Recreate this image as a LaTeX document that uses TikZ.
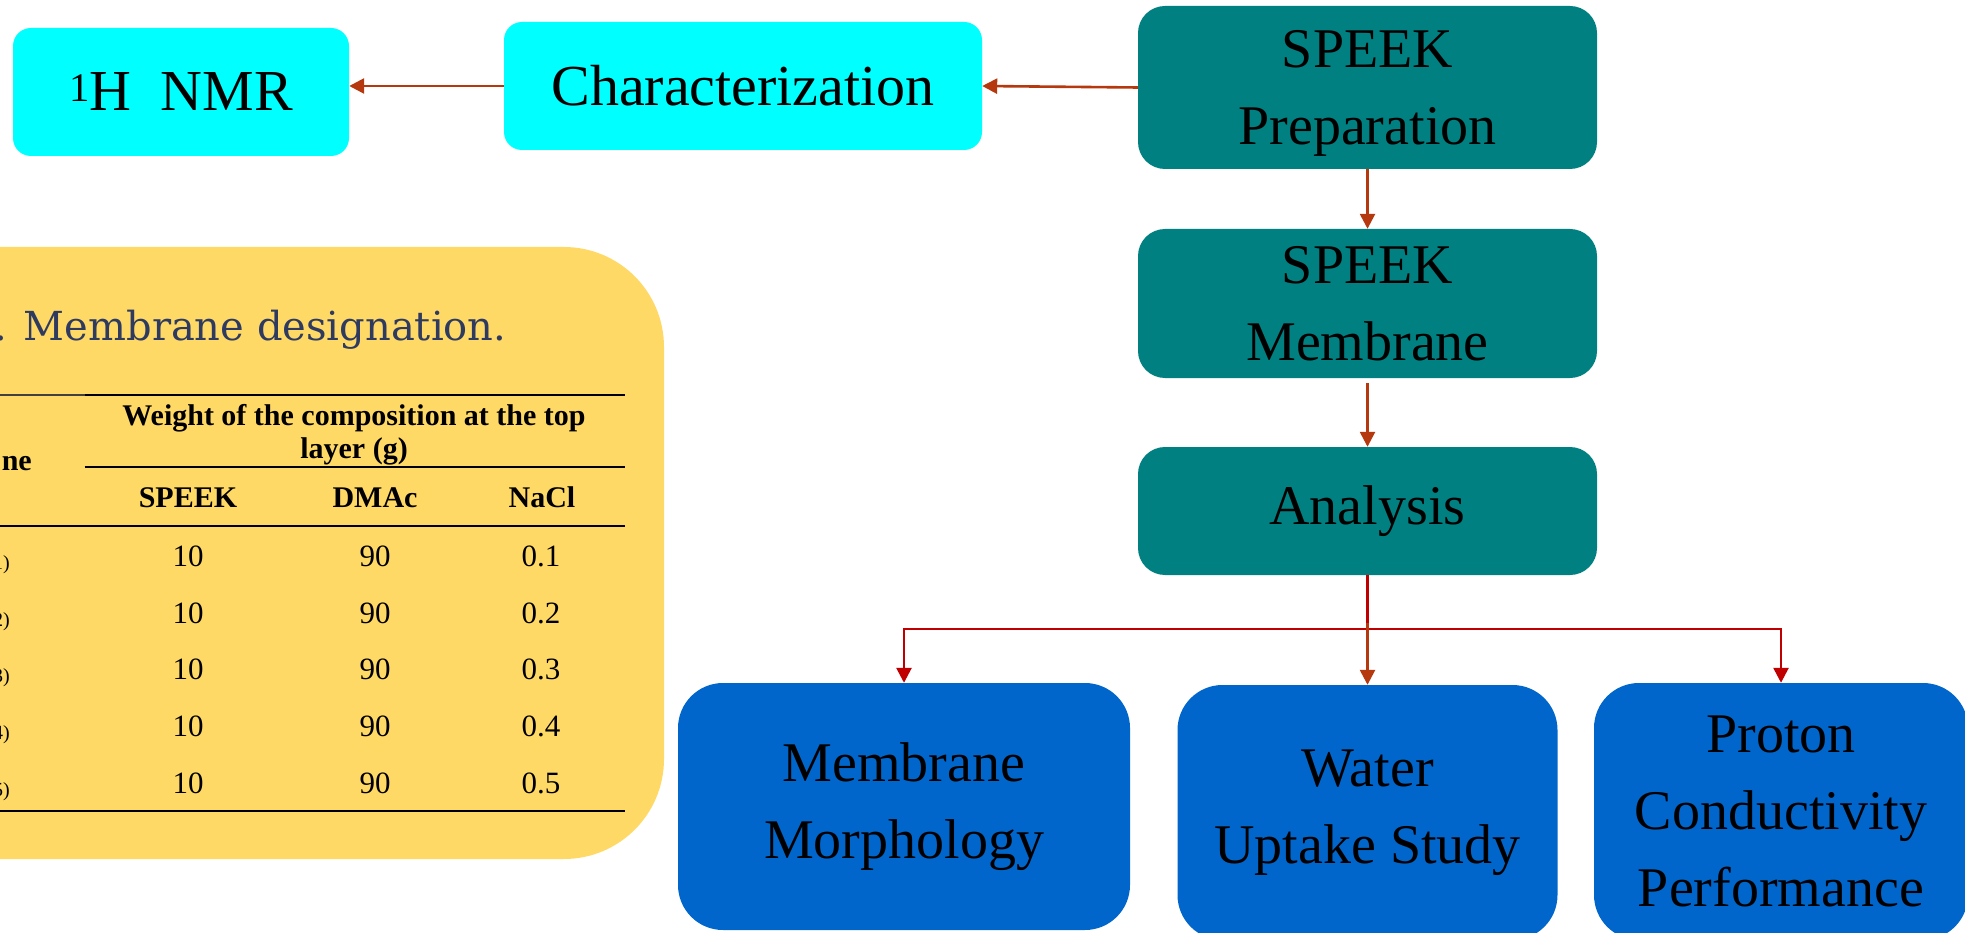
\documentclass[tikz,border=0pt]{standalone}
\usepackage{fontspec}
\setmainfont{Liberation Serif}
\newfontfamily\titlefont{DejaVu Serif}
\usetikzlibrary{arrows.meta}
\definecolor{boxcyan}{RGB}{0,255,255}
\definecolor{boxteal}{RGB}{0,128,128}
\definecolor{boxblue}{RGB}{0,102,204}
\definecolor{panelyellow}{RGB}{255,217,102}
\definecolor{arrorange}{RGB}{181,56,14}
\definecolor{arrred}{RGB}{192,0,0}
\definecolor{titleblue}{RGB}{46,58,96}
\tikzset{
  flowtext/.style={font=\fontsize{56}{77}\selectfont, text=black, align=center, inner sep=0pt},
  cyanbox/.style={flowtext, fill=boxcyan, rounded corners=18pt, font=\fontsize{58}{77}\selectfont},
  tealbox/.style={flowtext, fill=boxteal, rounded corners=27pt},
  bluebox/.style={flowtext, fill=boxblue, rounded corners=45pt},
  arrA/.style={draw=arrorange, line width=2.6pt, -{Triangle[length=15pt,width=15pt]}},
  arrR/.style={draw=arrred, line width=2.6pt},
  arrRtip/.style={arrR, -{Triangle[length=15pt,width=15pt]}},
  rule/.style={line width=2.4pt, black},
  thbold/.style={font=\fontsize{30}{34}\selectfont\bfseries, anchor=base, inner sep=0pt},
  tdata/.style={font=\fontsize{31}{34}\selectfont, anchor=base, inner sep=0pt},
  tlabel/.style={font=\fontsize{20}{24}\selectfont, anchor=base east, inner sep=0pt},
}
\begin{document}
\begin{tikzpicture}[x=1pt,y=-1pt]
\useasboundingbox (0,0) rectangle (1965,933);
\clip (0,0) rectangle (1965,933);

% yellow panel with table
\fill[panelyellow, rounded corners=100pt] (-150,247) rectangle (664,859);
\node[anchor=base west, inner sep=0pt, text=titleblue, font=\titlefont\fontsize{40}{46}\selectfont] (ttl) at (-6,340) {. Membrane designation.};
\draw[line width=1.6pt, black!75] (0,395) -- (84.5,395);
\draw[rule] (84.5,395) -- (624.5,395);
\draw[rule] (84.5,466.7) -- (624.5,466.7);
\draw[rule] (0,525.7) -- (624.5,525.7);
\draw[rule] (0,810.7) -- (624.5,810.7);
\node[thbold, anchor=base east] (hm) at (32,470) {ne};
\node[thbold] (hw1) at (354,425) {Weight of the composition at the top};
\node[thbold] (hw2) at (354,458) {layer (g)};
\node[thbold] (hs) at (188,507) {SPEEK};
\node[thbold] (hd) at (375,507) {DMAc};
\node[thbold] (hn) at (542,507) {NaCl};
\foreach \r/\yy/\v in {1/566/0.1, 2/623/0.2, 3/679/0.3, 4/736/0.4, 5/793/0.5}{
  \node[tlabel] (lab\r) at (10,\yy+3) {\r)};
  \node[tdata] (ds\r) at (188,\yy) {10};
  \node[tdata] (dd\r) at (375,\yy) {90};
  \node[tdata] (dn\r) at (541,\yy) {\v};
}

% flowchart nodes
\node[cyanbox, minimum width=336pt, minimum height=128pt] (nmr) at (181,92) {\textsuperscript{1}H\ \ NMR};
\node[cyanbox, minimum width=478pt, minimum height=128pt] (char) at (743,86) {Characterization};
\node[tealbox, minimum width=459pt, minimum height=163pt, text depth=0pt] (prep) at (1367.5,87.5) {SPEEK\\Preparation};
\node[tealbox, minimum width=459pt, minimum height=149pt] (memb) at (1367.5,303.5) {SPEEK\\Membrane};
\node[tealbox, minimum width=459pt, minimum height=128pt] (anal) at (1367.5,511) {Analysis};
\node[bluebox, minimum width=452pt, minimum height=247pt] (mm) at (904,806.5) {Membrane\\Morphology};
\node[bluebox, minimum width=380pt, minimum height=255pt] (wu) at (1367.5,812.5) {Water\\Uptake Study};
\node[bluebox, minimum width=374pt, minimum height=257pt] (pc) at (1781,811.5) {Proton\\Conductivity\\Performance};

% connectors
\draw[arrA] (char.west) -- (nmr.east |- char.west);
\draw[arrA] (prep.west) -- (char.east);
\draw[arrA] (prep.south) -- (memb.north);
\draw[arrA, shorten <=5pt] (memb.south) -- (anal.north);
\coordinate (j) at (1367.5,629);
\coordinate (jm) at (1367.5,623);
\draw[arrR] (anal.south) -- (j);
\draw[arrRtip] (j) -| (mm.north);
\draw[arrRtip] (j) -| (pc.north);
\draw[arrA] (jm) -- (wu.north);
\end{tikzpicture}
\end{document}
